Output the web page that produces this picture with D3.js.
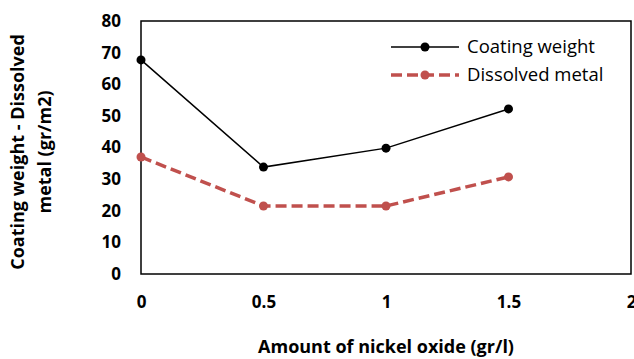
<!DOCTYPE html>
<meta charset="utf-8">
<style>
  body { margin: 0; background: #fff; }
  text { font-family: "Open Sans", "Liberation Sans", sans-serif; }
</style>
<svg width="634" height="359"></svg>
<script src="https://cdn.jsdelivr.net/npm/d3@7"></script>
<script>
var xValues = [0, 0.5, 1, 1.5];
var coatingWeight = [67.7, 33.8, 39.8, 52.2];
var dissolvedMetal = [37, 21.5, 21.5, 30.7];
var xTicks = [0, 0.5, 1, 1.5, 2];
var yTicks = [0, 10, 20, 30, 40, 50, 60, 70, 80];
var seriesNames = ["Coating weight", "Dissolved metal"];

var svg = d3.select("svg"),
    margin = {top: 21, right: 3, bottom: 85, left: 141},
    width = 634 - margin.left - margin.right,
    height = 359 - margin.top - margin.bottom;

var x = d3.scaleLinear().domain([0, 2]).range([0, width]),
    y = d3.scaleLinear().domain([0, 80]).range([height, 0]);

var g = svg.append("g")
    .attr("transform", "translate(" + margin.left + "," + margin.top + ")");

// frame
g.append("rect")
    .attr("width", width).attr("height", height)
    .attr("fill", "none").attr("stroke", "#000").attr("stroke-width", 1.5);

// axes
g.append("g")
    .attr("transform", "translate(0," + height + ")")
    .call(d3.axisBottom(x).tickValues(xTicks).tickSize(0).tickPadding(22)
      .tickFormat(function(d) { return d; }))
    .call(function(a) { a.select(".domain").remove(); })
    .selectAll("text")
    .attr("font-size", 17).attr("font-weight", "bold").attr("fill", "#000")
    .attr("font-family", "Open Sans, sans-serif");

g.append("g")
    .call(d3.axisLeft(y).tickValues(yTicks).tickSize(0).tickPadding(20))
    .call(function(a) { a.select(".domain").remove(); })
    .selectAll("text")
    .attr("font-size", 17).attr("font-weight", "bold").attr("fill", "#000")
    .attr("font-family", "Open Sans, sans-serif");

var line = d3.line()
    .x(function(d, i) { return x(xValues[i]); })
    .y(function(d) { return y(d); });

// dissolved metal
g.append("path").datum(dissolvedMetal)
    .attr("d", line).attr("fill", "none")
    .attr("stroke", "#c0504d").attr("stroke-width", 3.5)
    .attr("stroke-dasharray", "11,5");
g.selectAll(".dm").data(dissolvedMetal).enter().append("circle")
    .attr("cx", function(d, i) { return x(xValues[i]); })
    .attr("cy", function(d) { return y(d); })
    .attr("r", 4.5).attr("fill", "#c0504d");

// coating weight
g.append("path").datum(coatingWeight)
    .attr("d", line).attr("fill", "none")
    .attr("stroke", "#000").attr("stroke-width", 1.5);
g.selectAll(".cw").data(coatingWeight).enter().append("circle")
    .attr("cx", function(d, i) { return x(xValues[i]); })
    .attr("cy", function(d) { return y(d); })
    .attr("r", 4.5).attr("fill", "#000");

// legend
var legend = svg.append("g");
seriesNames.forEach(function(name, i) {
  var ly = 47 + i * 28;
  var red = i === 1;
  legend.append("line")
    .attr("x1", 391).attr("x2", 459).attr("y1", ly).attr("y2", ly)
    .attr("stroke", red ? "#c0504d" : "#000")
    .attr("stroke-width", red ? 3.5 : 1.5)
    .attr("stroke-dasharray", red ? "11,5" : null);
  legend.append("circle")
    .attr("cx", 425).attr("cy", ly).attr("r", 4.5)
    .attr("fill", red ? "#c0504d" : "#000");
  legend.append("text")
    .attr("x", 467).attr("y", ly).attr("dy", "0.35em")
    .attr("font-size", 18.5).text(name);
});

// axis titles
svg.append("text")
    .attr("x", 386).attr("y", 353).attr("text-anchor", "middle")
    .attr("font-size", 18).attr("font-weight", "bold")
    .text("Amount of nickel oxide (gr/l)");

var yt = svg.append("text")
    .attr("transform", "translate(24,152) rotate(-90)")
    .attr("text-anchor", "middle")
    .attr("font-size", 18).attr("font-weight", "bold");
yt.append("tspan").attr("x", 0).attr("y", 0).text("Coating weight - Dissolved");
yt.append("tspan").attr("x", 0).attr("y", 27).text("metal (gr/m2)");
</script>
